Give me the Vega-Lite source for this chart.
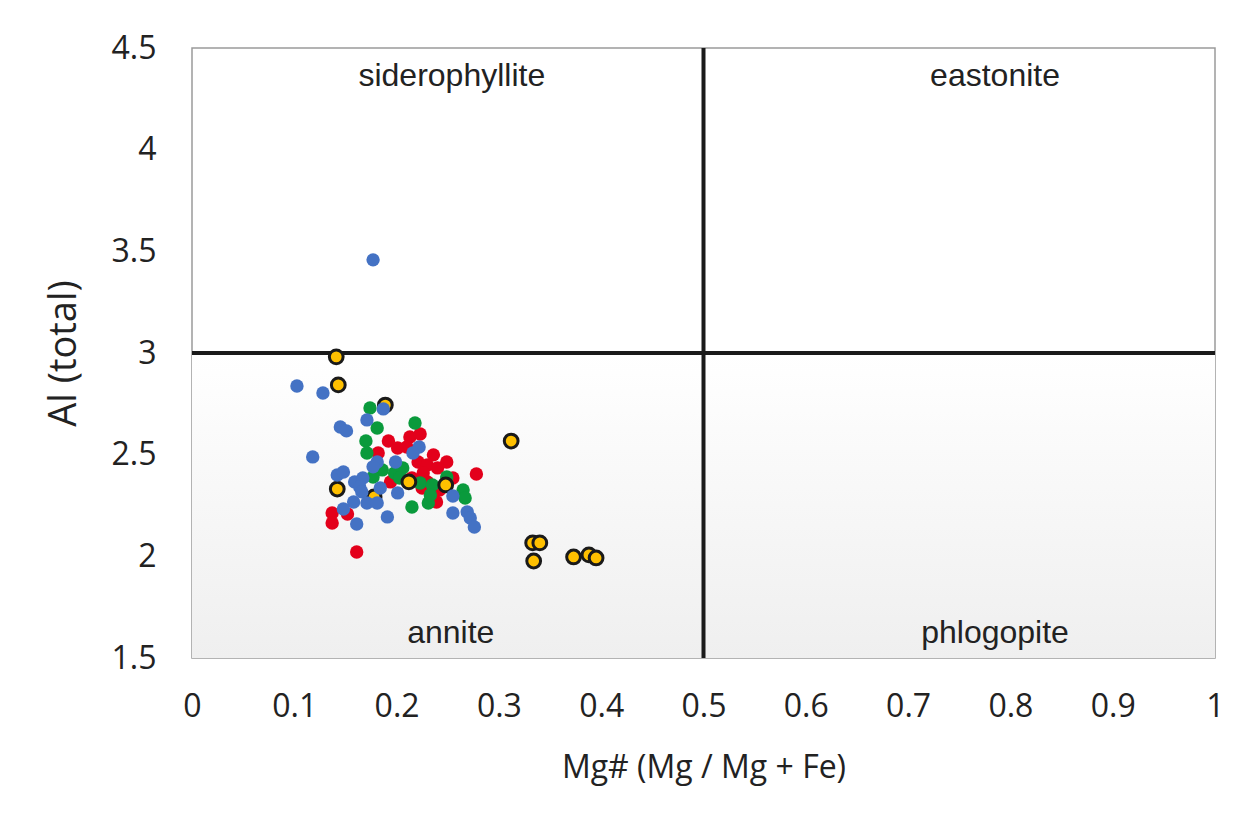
{
  "$schema": "https://vega.github.io/schema/vega-lite/v6.json",
  "autosize": {"type": "none"},
  "width": 1023,
  "height": 610,
  "padding": {"left": 192, "top": 48, "right": 31, "bottom": 164},
  "background": "#ffffff",
  "config": {
    "view": {"stroke": "#9a9a9a", "strokeWidth": 1.5},
    "axis": {
      "grid": false,
      "ticks": false,
      "tickSize": 0,
      "domain": false,
      "labelFlush": false,
      "labelOverlap": false,
      "labelFont": "Open Sans",
      "labelFontSize": 32,
      "labelColor": "#222222",
      "titleFont": "Open Sans",
      "titleFontWeight": "normal",
      "titleColor": "#222222"
    }
  },
  "datasets": {
    "pts": [
      {"series": "red", "mg": 0.192, "al": 2.567},
      {"series": "red", "mg": 0.213, "al": 2.587},
      {"series": "red", "mg": 0.223, "al": 2.602},
      {"series": "red", "mg": 0.201, "al": 2.533},
      {"series": "red", "mg": 0.210, "al": 2.538},
      {"series": "red", "mg": 0.182, "al": 2.508},
      {"series": "red", "mg": 0.236, "al": 2.499},
      {"series": "red", "mg": 0.221, "al": 2.464},
      {"series": "red", "mg": 0.230, "al": 2.449},
      {"series": "red", "mg": 0.249, "al": 2.464},
      {"series": "red", "mg": 0.240, "al": 2.435},
      {"series": "red", "mg": 0.278, "al": 2.405},
      {"series": "red", "mg": 0.226, "al": 2.410},
      {"series": "red", "mg": 0.194, "al": 2.366},
      {"series": "red", "mg": 0.230, "al": 2.366},
      {"series": "red", "mg": 0.225, "al": 2.336},
      {"series": "red", "mg": 0.255, "al": 2.385},
      {"series": "red", "mg": 0.239, "al": 2.267},
      {"series": "red", "mg": 0.137, "al": 2.213},
      {"series": "red", "mg": 0.137, "al": 2.164},
      {"series": "red", "mg": 0.152, "al": 2.208},
      {"series": "red", "mg": 0.161, "al": 2.021},
      {"series": "red", "mg": 0.215, "al": 2.385},
      {"series": "red", "mg": 0.242, "al": 2.326},
      {"series": "green", "mg": 0.174, "al": 2.730},
      {"series": "green", "mg": 0.218, "al": 2.656},
      {"series": "green", "mg": 0.181, "al": 2.631},
      {"series": "green", "mg": 0.170, "al": 2.567},
      {"series": "green", "mg": 0.171, "al": 2.508},
      {"series": "green", "mg": 0.186, "al": 2.425},
      {"series": "green", "mg": 0.198, "al": 2.410},
      {"series": "green", "mg": 0.206, "al": 2.435},
      {"series": "green", "mg": 0.177, "al": 2.390},
      {"series": "green", "mg": 0.223, "al": 2.361},
      {"series": "green", "mg": 0.235, "al": 2.351},
      {"series": "green", "mg": 0.249, "al": 2.390},
      {"series": "green", "mg": 0.265, "al": 2.326},
      {"series": "green", "mg": 0.267, "al": 2.287},
      {"series": "green", "mg": 0.215, "al": 2.243},
      {"series": "green", "mg": 0.231, "al": 2.262},
      {"series": "green", "mg": 0.233, "al": 2.302},
      {"series": "green", "mg": 0.203, "al": 2.385},
      {"series": "yellow", "mg": 0.141, "al": 2.981},
      {"series": "yellow", "mg": 0.143, "al": 2.843},
      {"series": "yellow", "mg": 0.189, "al": 2.744},
      {"series": "yellow", "mg": 0.312, "al": 2.567},
      {"series": "yellow", "mg": 0.142, "al": 2.331},
      {"series": "yellow", "mg": 0.178, "al": 2.292},
      {"series": "yellow", "mg": 0.212, "al": 2.366},
      {"series": "yellow", "mg": 0.248, "al": 2.351},
      {"series": "yellow", "mg": 0.333, "al": 2.066},
      {"series": "yellow", "mg": 0.340, "al": 2.066},
      {"series": "yellow", "mg": 0.334, "al": 1.977},
      {"series": "yellow", "mg": 0.373, "al": 1.997},
      {"series": "yellow", "mg": 0.388, "al": 2.007},
      {"series": "yellow", "mg": 0.395, "al": 1.992},
      {"series": "blue", "mg": 0.1026, "al": 2.838},
      {"series": "blue", "mg": 0.128, "al": 2.803},
      {"series": "blue", "mg": 0.177, "al": 3.458},
      {"series": "blue", "mg": 0.187, "al": 2.725},
      {"series": "blue", "mg": 0.171, "al": 2.671},
      {"series": "blue", "mg": 0.145, "al": 2.636},
      {"series": "blue", "mg": 0.151, "al": 2.617},
      {"series": "blue", "mg": 0.118, "al": 2.489},
      {"series": "blue", "mg": 0.222, "al": 2.538},
      {"series": "blue", "mg": 0.216, "al": 2.508},
      {"series": "blue", "mg": 0.181, "al": 2.464},
      {"series": "blue", "mg": 0.177, "al": 2.440},
      {"series": "blue", "mg": 0.199, "al": 2.464},
      {"series": "blue", "mg": 0.142, "al": 2.400},
      {"series": "blue", "mg": 0.148, "al": 2.415},
      {"series": "blue", "mg": 0.159, "al": 2.366},
      {"series": "blue", "mg": 0.167, "al": 2.385},
      {"series": "blue", "mg": 0.164, "al": 2.341},
      {"series": "blue", "mg": 0.166, "al": 2.317},
      {"series": "blue", "mg": 0.184, "al": 2.336},
      {"series": "blue", "mg": 0.158, "al": 2.267},
      {"series": "blue", "mg": 0.171, "al": 2.262},
      {"series": "blue", "mg": 0.181, "al": 2.262},
      {"series": "blue", "mg": 0.148, "al": 2.233},
      {"series": "blue", "mg": 0.201, "al": 2.312},
      {"series": "blue", "mg": 0.191, "al": 2.194},
      {"series": "blue", "mg": 0.161, "al": 2.159},
      {"series": "blue", "mg": 0.255, "al": 2.213},
      {"series": "blue", "mg": 0.255, "al": 2.297},
      {"series": "blue", "mg": 0.269, "al": 2.218},
      {"series": "blue", "mg": 0.272, "al": 2.189},
      {"series": "blue", "mg": 0.276, "al": 2.144}
    ]
  },
  "layer": [
    {
      "data": {"values": [{"x0": 0, "x1": 1, "y0": 1.5, "y1": 3}]},
      "mark": {
        "type": "rect",
        "color": {
          "gradient": "linear",
          "x1": 0, "y1": 0, "x2": 0, "y2": 1,
          "stops": [
            {"offset": 0, "color": "#ffffff"},
            {"offset": 1, "color": "#efefef"}
          ]
        }
      },
      "encoding": {
        "x": {
          "field": "x0", "type": "quantitative",
          "scale": {"domain": [0, 1], "nice": false, "zero": false},
          "axis": {
            "values": [0, 0.1, 0.2, 0.3, 0.4, 0.5, 0.6, 0.7, 0.8, 0.9, 1],
            "format": "~g",
            "labelPadding": 33,
            "title": "Mg# (Mg / Mg + Fe)",
            "titleFontSize": 32,
            "titlePadding": 30
          }
        },
        "x2": {"field": "x1"},
        "y": {
          "field": "y0", "type": "quantitative",
          "scale": {"domain": [1.5, 4.5], "nice": false, "zero": false},
          "axis": {
            "values": [1.5, 2, 2.5, 3, 3.5, 4, 4.5],
            "format": "~g",
            "labelPadding": 36,
            "title": "Al (total)",
            "titleFontSize": 38,
            "titlePadding": 28
          }
        },
        "y2": {"field": "y1"}
      }
    },
    {
      "data": {"values": [{"x0": 0, "x1": 1, "y": 3}]},
      "mark": {"type": "rule", "color": "#1a1a1a", "strokeWidth": 4},
      "encoding": {
        "x": {"field": "x0", "type": "quantitative"},
        "x2": {"field": "x1"},
        "y": {"field": "y", "type": "quantitative"}
      }
    },
    {
      "data": {"values": [{"x": 0.5, "y0": 1.5, "y1": 4.5}]},
      "mark": {"type": "rule", "color": "#1a1a1a", "strokeWidth": 4},
      "encoding": {
        "x": {"field": "x", "type": "quantitative"},
        "y": {"field": "y0", "type": "quantitative"},
        "y2": {"field": "y1"}
      }
    },
    {
      "data": {"values": [
        {"label": "siderophyllite", "x": 0.254, "y": 4.363},
        {"label": "eastonite", "x": 0.785, "y": 4.363},
        {"label": "annite", "x": 0.253, "y": 1.623},
        {"label": "phlogopite", "x": 0.785, "y": 1.623}
      ]},
      "mark": {"type": "text", "font": "Liberation Sans", "fontSize": 32, "color": "#222222", "baseline": "middle", "align": "center"},
      "encoding": {
        "x": {"field": "x", "type": "quantitative"},
        "y": {"field": "y", "type": "quantitative"},
        "text": {"field": "label"}
      }
    },
    {
      "data": {"name": "pts"},
      "transform": [{"filter": "datum.series === 'red'"}],
      "mark": {"type": "circle", "size": 180, "opacity": 1, "color": "#e3001b"},
      "encoding": {
        "x": {"field": "mg", "type": "quantitative"},
        "y": {"field": "al", "type": "quantitative"}
      }
    },
    {
      "data": {"name": "pts"},
      "transform": [{"filter": "datum.series === 'green'"}],
      "mark": {"type": "circle", "size": 180, "opacity": 1, "color": "#0a9a3c"},
      "encoding": {
        "x": {"field": "mg", "type": "quantitative"},
        "y": {"field": "al", "type": "quantitative"}
      }
    },
    {
      "data": {"name": "pts"},
      "transform": [{"filter": "datum.series === 'yellow'"}],
      "mark": {"type": "point", "shape": "circle", "filled": true, "size": 190, "opacity": 1, "fill": "#ffc000", "stroke": "#1a1a1a", "strokeWidth": 3},
      "encoding": {
        "x": {"field": "mg", "type": "quantitative"},
        "y": {"field": "al", "type": "quantitative"}
      }
    },
    {
      "data": {"name": "pts"},
      "transform": [{"filter": "datum.series === 'blue'"}],
      "mark": {"type": "circle", "size": 180, "opacity": 1, "color": "#4472c4"},
      "encoding": {
        "x": {"field": "mg", "type": "quantitative"},
        "y": {"field": "al", "type": "quantitative"}
      }
    }
  ]
}
